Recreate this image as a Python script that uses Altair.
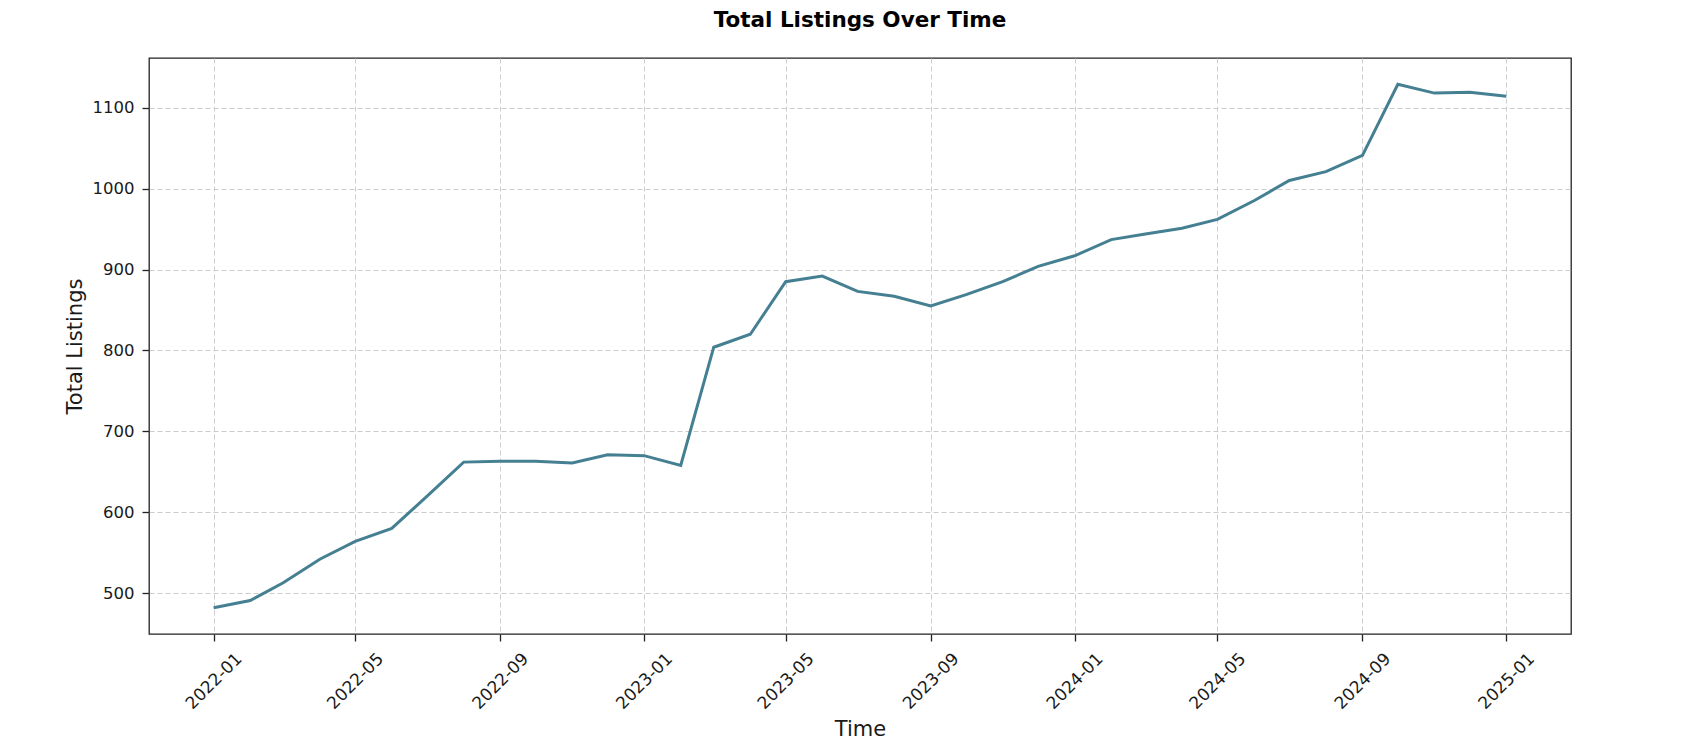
import altair as alt
import pandas as pd

months = [
    "2022-01-01", "2022-02-01", "2022-03-01", "2022-04-01", "2022-05-01", "2022-06-01",
    "2022-07-01", "2022-08-01", "2022-09-01", "2022-10-01", "2022-11-01", "2022-12-01",
    "2023-01-01", "2023-02-01", "2023-03-01", "2023-04-01", "2023-05-01", "2023-06-01",
    "2023-07-01", "2023-08-01", "2023-09-01", "2023-10-01", "2023-11-01", "2023-12-01",
    "2024-01-01", "2024-02-01", "2024-03-01", "2024-04-01", "2024-05-01", "2024-06-01",
    "2024-07-01", "2024-08-01", "2024-09-01", "2024-10-01", "2024-11-01", "2024-12-01",
    "2025-01-01",
]
total_listings = [
    482, 491, 513, 542, 564, 580, 620, 662, 663, 663, 661, 671,
    670, 658, 804, 820, 885, 892, 873, 867, 855, 869, 885, 904,
    917, 937, 944, 951, 962, 985, 1010, 1021, 1041, 1129, 1118, 1119,
    1114,
]
x_tick_dates = [(2022, 1), (2022, 5), (2022, 9), (2023, 1), (2023, 5), (2023, 9),
                (2024, 1), (2024, 5), (2024, 9), (2025, 1)]
y_ticks = [500, 600, 700, 800, 900, 1000, 1100]

df = pd.DataFrame({"Time": months, "Total Listings": total_listings})

FONT = "DejaVu Sans"

x_domain = [
    alt.DateTime(year=2021, month=11, date=7, hours=4, minutes=48, utc=True),
    alt.DateTime(year=2025, month=2, date=24, hours=19, minutes=12, utc=True),
]
x_values = [alt.DateTime(year=y, month=m, date=1, utc=True) for y, m in x_tick_dates]

chart = (
    alt.Chart(df)
    .mark_line(color="#457f92", strokeWidth=3)
    .encode(
        x=alt.X(
            "Time:T",
            title="Time",
            scale=alt.Scale(type="utc", domain=x_domain, nice=False),
            axis=alt.Axis(
                values=x_values,
                format="%Y-%m",
                labelAngle=315,
                labelAlign="center",
                labelBaseline="middle",
                labelPadding=40,
                tickSize=7,
                labelFontSize=17,
                titleFontSize=21,
                titlePadding=7,
                titleFontWeight="normal",
                grid=True,
                domain=False,
            ),
        ),
        y=alt.Y(
            "Total Listings:Q",
            title="Total Listings",
            scale=alt.Scale(domain=[449.6, 1161.4], nice=False, zero=False),
            axis=alt.Axis(
                values=y_ticks,
                format="d",
                tickSize=7,
                labelPadding=8,
                labelFontSize=16.5,
                titleFontSize=21,
                titlePadding=7,
                titleFontWeight="normal",
                grid=True,
                domain=False,
            ),
        ),
    )
    .properties(
        width=1422,
        height=576,
        title=alt.TitleParams(
            "Total Listings Over Time",
            fontSize=21.5,
            fontWeight="bold",
            font=FONT,
            color="#000000",
            anchor="middle",
            offset=27,
        ),
        autosize=alt.AutoSizeParams(type="none"),
        padding={"left": 141, "top": 50, "right": 123, "bottom": 114},
    )
    .configure(font=FONT, background="white")
    .configure_view(stroke="#222222", strokeWidth=1.3)
    .configure_axis(
        labelFont=FONT,
        titleFont=FONT,
        labelColor="#1a1a1a",
        titleColor="#1a1a1a",
        tickColor="#222222",
        tickWidth=1.3,
        gridColor="#cccccc",
        gridDash=[5, 3],
        gridWidth=1,
    )
)

chart.save("out.html", embed_options={"renderer": "svg", "actions": False})
